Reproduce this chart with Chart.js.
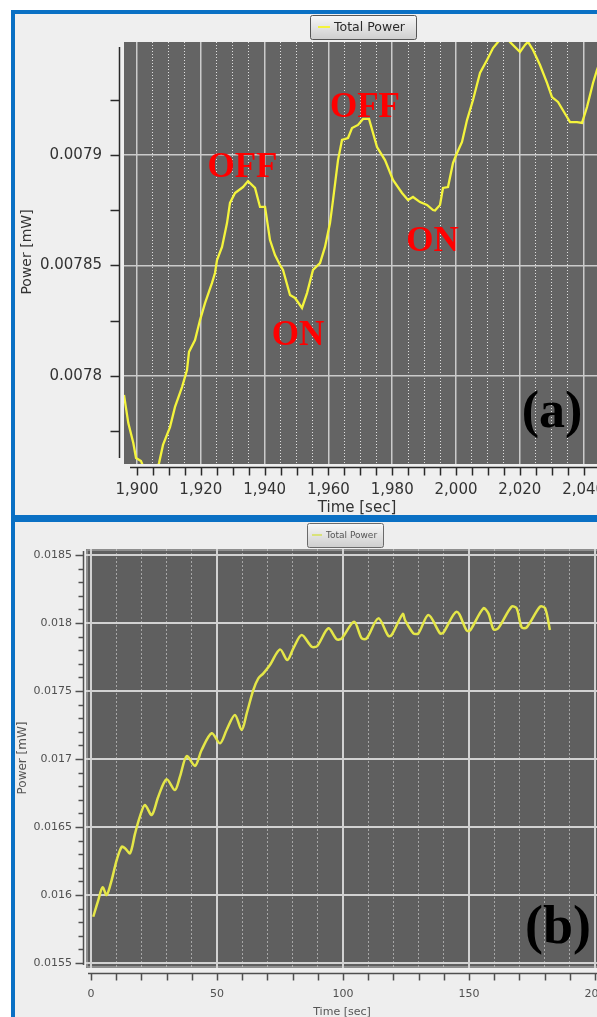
<!DOCTYPE html>
<html>
<head>
<meta charset="utf-8">
<script src="https://cdn.jsdelivr.net/npm/chart.js@4.4.1/dist/chart.umd.min.js"></script>
<style>
  html, body { margin: 0; padding: 0; background: #ffffff; overflow: hidden; width: 597px; height: 1017px; }
  .panel { position: absolute; left: 11px; width: 700px; border: 4px solid #0a70c4; background: #efefef; box-sizing: border-box; }
  #panelA { top: 10px; height: 509px; }
  #panelB { top: 518px; height: 530px; background: #eeeeee; }
  canvas { position: absolute; }
  #chartA { left: 15px; top: 14px; width: 640px; height: 501px; }
  #chartB { left: 15px; top: 522px; width: 640px; height: 495px; filter: blur(0.6px); }
</style>
</head>
<body>
<div class="panel" id="panelA"></div>
<div class="panel" id="panelB"></div>
<canvas id="chartA" width="640" height="501"></canvas>
<canvas id="chartB" width="640" height="495"></canvas>
<script>
// ---- (a) zoomed trace, time in seconds, power in mW ----
const topTime = [
  1895.92, 1897.27, 1898.84, 1899.69, 1901.25, 1902.5, 1904.1, 1905.6, 1906.90, 1908.15,
  1910.34, 1911.91, 1914.11, 1915.67, 1916.30, 1918.18, 1919.75, 1921.32, 1923.51, 1924.45,
  1925.08, 1926.65, 1928.21, 1929.15, 1930.72, 1933.23, 1934.80, 1936.99, 1938.56, 1940.13,
  1941.69, 1943.26, 1944.83, 1945.77, 1947.96, 1949.53, 1951.72, 1953.29, 1955.17, 1957.37,
  1958.93, 1960.50, 1961.44, 1963.01, 1964.26, 1966.14, 1967.40, 1969.28, 1970.85, 1972.73,
  1975.24, 1977.74, 1980.25, 1983.07, 1984.95, 1986.52, 1988.71, 1990.91, 1992.79, 1993.42,
  1994.98, 1995.92, 1997.49, 1999.06, 2000.31, 2001.88, 2003.45, 2005.33, 2007.52, 2009.72,
  2011.60, 2013.17, 2015.36, 2016.93, 2020.06, 2021.63, 2022.57, 2024.14, 2026.33, 2028.53,
  2030.09, 2031.97, 2034.80, 2035.74, 2037.93, 2039.50, 2041.07, 2042.95, 2044.20, 2046.7
];
const topPower = [
  0.0077914, 0.0077787, 0.0077697, 0.0077629, 0.0077615, 0.0077570, 0.0077520, 0.0077550, 0.0077606, 0.0077688,
  0.0077769, 0.0077860, 0.0077950, 0.0078027, 0.0078109, 0.0078163, 0.0078253, 0.0078330, 0.0078421, 0.0078466,
  0.0078525, 0.0078584, 0.0078692, 0.0078783, 0.0078828, 0.0078855, 0.0078882, 0.0078851, 0.0078765, 0.0078765,
  0.0078615, 0.0078547, 0.0078502, 0.0078480, 0.0078366, 0.0078353, 0.0078308, 0.0078375, 0.0078480, 0.0078511,
  0.0078584, 0.0078692, 0.0078796, 0.0078977, 0.0079068, 0.0079077, 0.0079122, 0.0079136, 0.0079163, 0.0079163,
  0.0079036, 0.0078977, 0.0078887, 0.0078828, 0.0078796, 0.0078810, 0.0078787, 0.0078774, 0.0078751, 0.0078749,
  0.0078774, 0.0078851, 0.0078855, 0.0078964, 0.0079009, 0.0079059, 0.0079158, 0.0079249, 0.0079371, 0.0079430,
  0.0079484, 0.0079511, 0.0079550, 0.0079511, 0.0079466, 0.0079498, 0.0079512, 0.0079475, 0.0079407, 0.0079326,
  0.0079262, 0.0079240, 0.0079172, 0.0079149, 0.0079149, 0.0079145, 0.0079217, 0.0079326, 0.0079385, 0.0079480
];
const topXMajor = [1900, 1920, 1940, 1960, 1980, 2000, 2020, 2040, 2060];
const topYMajor = [0.0078, 0.00785, 0.0079];

// ---- (b) full run ----
const bottomTime = [
  0.9, 2.9, 4.6, 6.2, 8.2, 10.2, 12.2, 13.5, 15.5, 17.5,
  19.4, 21.4, 24.1, 26.7, 30.0, 33.3, 35.3, 38.0, 41.3, 43.9,
  47.9, 51.2, 53.8, 57.1, 59.8, 61.8, 64.4, 66.4, 68.4, 71.0,
  75.0, 77.9, 80.3, 83.6, 87.6, 89.8, 94.2, 97.5, 99.5, 104.4,
  107.4, 109.4, 114.0, 118.0, 119.3, 123.7, 124.6, 127.9, 129.9, 133.9,
  138.5, 139.8, 145.1, 149.1, 150.4, 155.7, 157.7, 159.7, 161.6, 166.9,
  168.9, 170.9, 172.9, 178.2, 180.2, 182.1
];
const bottomPower = [
  0.015840, 0.015963, 0.016057, 0.016000, 0.016110, 0.016257, 0.016355, 0.016343, 0.016307, 0.016453,
  0.016576, 0.016662, 0.016588, 0.016723, 0.016851, 0.016772, 0.016870, 0.017022, 0.016949, 0.017066,
  0.017189, 0.017115, 0.017213, 0.017324, 0.017213, 0.017336, 0.017507, 0.017593, 0.017630, 0.017691,
  0.017806, 0.017728, 0.017814, 0.017912, 0.017826, 0.017831, 0.017961, 0.017880, 0.017887, 0.018010,
  0.017887, 0.017887, 0.018034, 0.017904, 0.017912, 0.018066, 0.018022, 0.017924, 0.017924, 0.018059,
  0.017924, 0.017929, 0.018083, 0.017944, 0.017944, 0.018108, 0.018071, 0.017953, 0.017961, 0.018120,
  0.018108, 0.017968, 0.017968, 0.018120, 0.018108, 0.017949
];
const bottomXMajor = [0, 50, 100, 150, 200];
const bottomYMajor = [0.0155, 0.016, 0.0165, 0.017, 0.0175, 0.018, 0.0185];

// switch labels on the (a) trace, anchored in data units
const topNotes = [
  { text: 'OFF', t: 1933.07, v: 0.0078900 },
  { text: 'ON',  t: 1950.47, v: 0.0078140 },
  { text: 'OFF', t: 1971.47, v: 0.0079172 },
  { text: 'ON',  t: 1992.63, v: 0.0078566 }
];

const isIn = (v, list) => list.some(m => Math.abs(v - m) <= Math.abs(m) * 1e-7 + 1e-12);
const fmtSmall = v => parseFloat(v.toPrecision(6)).toString();

const decor = {
  id: 'decor',
  beforeDraw(chart, _args, o) {
    const { ctx, chartArea: a } = chart;
    ctx.save();
    ctx.fillStyle = o.plotColor;
    ctx.fillRect(a.left, a.top, a.right - a.left, a.bottom - a.top);
    ctx.restore();
  },
  afterDatasetsDraw(chart, _args, o) {
    const { ctx, chartArea: a, scales: { x, y } } = chart;
    ctx.save();
    if (o.plotEdge) {
      ctx.strokeStyle = o.plotEdge;
      ctx.lineWidth = 1.5;
      ctx.strokeRect(a.left + 1, a.top + 1, a.right - a.left - 2, a.bottom - a.top - 2);
    }
    ctx.textAlign = 'center';
    ctx.textBaseline = 'alphabetic';
    for (const n of o.notes) {
      ctx.font = o.noteFont;
      ctx.fillStyle = o.noteColor;
      ctx.fillText(n.text, x.getPixelForValue(n.t), y.getPixelForValue(n.v));
    }
    ctx.font = o.tag.font;
    ctx.fillStyle = '#000000';
    ctx.fillText(o.tag.text, o.tag.x, o.tag.y);
    ctx.restore();
  },
  afterDraw(chart, _args, o) {
    const { ctx, chartArea: a, scales: { x, y } } = chart;
    const ax = o.axis;
    ctx.save();
    // detached axis lines with their tick marks
    ctx.strokeStyle = ax.color;
    ctx.lineWidth = ax.width;
    ctx.beginPath();
    const yx = Math.round(a.left - ax.yGap) + 0.5;
    const yTop = a.top + ax.yInsetTop, yBot = a.bottom - ax.yInsetBottom;
    ctx.moveTo(yx, yTop); ctx.lineTo(yx, yBot);
    for (const t of y.ticks) {
      const p = Math.round(y.getPixelForValue(t.value)) + 0.5;
      if (p < yTop || p > yBot) continue;
      const len = isIn(t.value, o.yMajor) ? ax.yMajorLen : ax.yMinorLen;
      ctx.moveTo(yx - len, p); ctx.lineTo(yx, p);
    }
    const xy = Math.round(a.bottom + ax.xGap) + 0.5;
    const xL = a.left + ax.xInsetLeft;
    ctx.moveTo(xL, xy); ctx.lineTo(a.right, xy);
    for (const t of x.ticks) {
      const p = Math.round(x.getPixelForValue(t.value)) + 0.5;
      if (p < xL) continue;
      const len = isIn(t.value, o.xMajor) ? ax.xMajorLen : ax.xMinorLen;
      ctx.moveTo(p, xy); ctx.lineTo(p, xy + len);
    }
    ctx.stroke();

    // axis titles
    ctx.fillStyle = o.titleColor;
    ctx.font = o.titleFont;
    ctx.textAlign = 'center';
    ctx.textBaseline = 'middle';
    ctx.fillText(o.xTitle.text, o.xTitle.x, o.xTitle.y);
    ctx.save();
    ctx.translate(o.yTitle.x, o.yTitle.y);
    ctx.rotate(-Math.PI / 2);
    ctx.font = o.yTitle.font || o.titleFont;
    ctx.fillText(o.yTitle.text, 0, 0);
    ctx.restore();

    // legend button
    const L = o.legend;
    const ds = chart.data.datasets[0];
    const g = ctx.createLinearGradient(0, L.y, 0, L.y + L.h);
    g.addColorStop(0, '#f8f8f8');
    g.addColorStop(1, '#cfcfcf');
    ctx.fillStyle = g;
    ctx.beginPath();
    ctx.roundRect(L.x + 0.5, L.y + 0.5, L.w, L.h, 2);
    ctx.fill();
    ctx.strokeStyle = L.border;
    ctx.lineWidth = 1;
    ctx.stroke();
    ctx.strokeStyle = L.swatch || ds.borderColor;
    ctx.lineWidth = 2;
    ctx.beginPath();
    ctx.moveTo(L.x + L.lineX0, L.y + L.h / 2);
    ctx.lineTo(L.x + L.lineX1, L.y + L.h / 2);
    ctx.stroke();
    ctx.fillStyle = L.color;
    ctx.font = L.font;
    ctx.textAlign = 'left';
    ctx.textBaseline = 'middle';
    ctx.fillText(ds.label, L.x + L.textX, L.y + L.h / 2 + 1);
    ctx.restore();
  }
};

function noPad(h) {
  return s => {
    s.paddingLeft = 0; s.paddingRight = 0; s.paddingTop = 0; s.paddingBottom = 0;
    if (s.isHorizontal()) s.height = h; else s.width = h;
  };
}

// ---------------- chart (a) ----------------
new Chart(document.getElementById('chartA'), {
  type: 'line',
  data: {
    datasets: [{
      label: 'Total Power',
      data: topTime.map((t, i) => ({ x: t, y: topPower[i] })),
      borderColor: '#f4f43c',
      borderWidth: 2.3,
      pointRadius: 0,
      tension: 0,
      clip: 0
    }]
  },
  options: {
    responsive: false,
    animation: false,
    devicePixelRatio: 1,
    layout: { padding: { top: 28, left: 0, right: 0, bottom: 0 } },
    plugins: {
      legend: { display: false },
      tooltip: { enabled: false },
      decor: {
        plotColor: '#646464',
        notes: topNotes,
        noteFont: 'bold 35px "Liberation Serif"',
        noteColor: '#ff0000',
        tag: { text: '(a)', font: 'bold 52px "Liberation Serif"', x: 537, y: 413 },
        xMajor: topXMajor,
        yMajor: topYMajor,
        axis: { color: '#2a2a2a', width: 1.5, yGap: 5, yInsetTop: 5, yInsetBottom: 6,
                yMajorLen: 9, yMinorLen: 9, xGap: 3, xInsetLeft: 6, xMajorLen: 8, xMinorLen: 8 },
        titleColor: '#333333',
        titleFont: '15px "DejaVu Sans"',
        xTitle: { text: 'Time [sec]', x: 342, y: 494 },
        yTitle: { text: 'Power [mW]', x: 12, y: 238, font: '14px "DejaVu Sans"' },
        legend: { x: 295, y: 1, w: 106, h: 24, border: '#555555', color: '#2a2a2a',
                  font: '12.5px "DejaVu Sans"', lineX0: 8, lineX1: 20, textX: 24 }
      }
    },
    scales: {
      x: {
        type: 'linear',
        min: 1895.92,
        max: 2062.38,
        afterFit: noPad(51),
        ticks: {
          stepSize: 5, includeBounds: false, autoSkip: false, maxRotation: 0, minRotation: 0,
          maxTicksLimit: 1000, padding: 17, color: '#333333',
          font: { family: 'DejaVu Sans', size: 15 },
          callback: v => isIn(v, topXMajor) ? v.toLocaleString('en-US') : ''
        },
        grid: {
          drawTicks: false,
          lineWidth: c => isIn(c.tick.value, topXMajor) ? 1.5 : 1,
          color: c => isIn(c.tick.value, topXMajor) ? '#cbcbcb' : 'rgba(255,255,255,0.8)'
        },
        border: { display: false, dash: c => (c.tick && isIn(c.tick.value, topXMajor)) ? [] : [1, 2] }
      },
      y: {
        type: 'linear',
        min: 0.00776018,
        max: 0.00795113,
        afterFit: noPad(109),
        ticks: {
          stepSize: 0.000025, includeBounds: false, autoSkip: false, maxTicksLimit: 1000,
          padding: 22, color: '#333333',
          font: { family: 'DejaVu Sans', size: 15 },
          callback: v => (isIn(v, topYMajor)) ? fmtSmall(v) : ''
        },
        grid: {
          drawTicks: false,
          lineWidth: 1.5,
          color: c => isIn(c.tick.value, topYMajor) ? '#cbcbcb' : 'rgba(0,0,0,0)'
        },
        border: { display: false }
      }
    }
  },
  plugins: [decor]
});

// ---------------- chart (b) ----------------
new Chart(document.getElementById('chartB'), {
  type: 'line',
  data: {
    datasets: [{
      label: 'Total Power',
      data: bottomTime.map((t, i) => ({ x: t, y: bottomPower[i] })),
      borderColor: '#e4e648',
      borderWidth: 2.5,
      pointRadius: 0,
      tension: 0.3,
      clip: 0
    }]
  },
  options: {
    responsive: false,
    animation: false,
    devicePixelRatio: 1,
    layout: { padding: { top: 27, left: 0, right: 0, bottom: 0 } },
    plugins: {
      legend: { display: false },
      tooltip: { enabled: false },
      decor: {
        plotColor: '#5f5f5f',
        plotEdge: 'rgba(210,210,210,0.55)',
        notes: [],
        noteFont: 'bold 35px "Liberation Serif"',
        noteColor: '#ff0000',
        tag: { text: '(b)', font: 'bold 54px "Liberation Serif"', x: 543, y: 421 },
        xMajor: bottomXMajor,
        yMajor: bottomYMajor,
        axis: { color: '#505050', width: 1.5, yGap: 3, yInsetTop: 2, yInsetBottom: 3,
                yMajorLen: 8, yMinorLen: 5, xGap: 5, xInsetLeft: 2, xMajorLen: 7, xMinorLen: 7 },
        titleColor: '#555555',
        titleFont: '11px "DejaVu Sans"',
        xTitle: { text: 'Time [sec]', x: 327, y: 490 },
        yTitle: { text: 'Power [mW]', x: 8, y: 236, font: '12px "DejaVu Sans"' },
        legend: { x: 292, y: 1, w: 76, h: 24, border: '#6a6a6a', color: '#555555',
                  swatch: '#d9e27a', font: '9px "DejaVu Sans"', lineX0: 5, lineX1: 15, textX: 19 }
      }
    },
    scales: {
      x: {
        type: 'linear',
        min: -1.98,
        max: 223.8,
        afterFit: noPad(49),
        ticks: {
          stepSize: 10, includeBounds: false, autoSkip: false, maxRotation: 0, minRotation: 0,
          maxTicksLimit: 1000, padding: 20, color: '#505050',
          font: { family: 'DejaVu Sans', size: 11 },
          callback: v => isIn(v, bottomXMajor) ? String(v) : ''
        },
        grid: {
          drawTicks: false,
          lineWidth: c => isIn(c.tick.value, bottomXMajor) ? 2 : 1,
          color: c => isIn(c.tick.value, bottomXMajor) ? '#d2d2d2' : 'rgba(255,255,255,0.45)'
        },
        border: { display: false, dash: c => (c.tick && isIn(c.tick.value, bottomXMajor)) ? [] : [2, 2] }
      },
      y: {
        type: 'linear',
        min: 0.0154632,
        max: 0.0185441,
        afterFit: noPad(71),
        ticks: {
          stepSize: 0.0001, includeBounds: false, autoSkip: false, maxTicksLimit: 1000,
          padding: 14, color: '#505050',
          font: { family: 'DejaVu Sans', size: 11 },
          callback: v => isIn(v, bottomYMajor) ? fmtSmall(v) : ''
        },
        grid: {
          drawTicks: false,
          lineWidth: 2,
          color: c => isIn(c.tick.value, bottomYMajor) ? '#d2d2d2' : 'rgba(0,0,0,0)'
        },
        border: { display: false }
      }
    }
  },
  plugins: [decor]
});
</script>
</body>
</html>
